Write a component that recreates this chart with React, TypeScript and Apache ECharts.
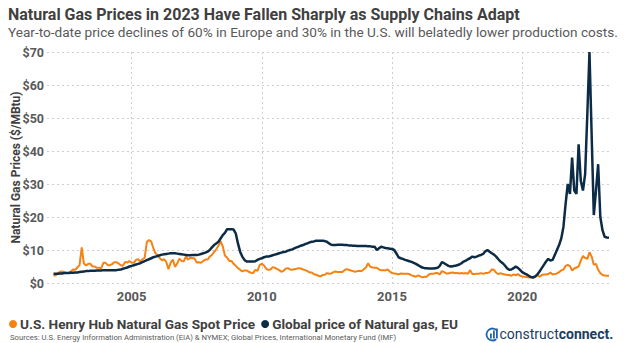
import React, { useEffect, useRef } from "react";
import * as echarts from "echarts";

// Monthly values, Jan 2002 .. May 2023 ($/MBtu)
const henryHub: number[] = [
  2.3, 2.3, 3.0, 3.4, 3.5, 3.3, 3.0, 3.1, 3.5, 4.1, 4.0, 4.7, // 2002
  5.4, 10.8, 5.9, 5.3, 5.8, 5.8, 5.0, 5.0, 4.6, 4.6, 4.5, 6.1, // 2003
  6.1, 5.4, 5.4, 5.7, 6.3, 6.3, 5.9, 5.4, 5.2, 6.4, 6.2, 6.6, // 2004
  6.2, 6.1, 7.0, 7.2, 6.5, 7.2, 7.6, 12.4, 13.0, 12.6, 10.6, 9.0, // 2005
  8.4, 7.5, 6.9, 7.2, 6.3, 4.2, 6.2, 7.1, 4.9, 5.9, 7.4, 6.7, // 2006
  6.6, 8.0, 7.1, 7.6, 7.6, 7.4, 6.2, 6.3, 6.1, 6.7, 7.1, 7.1, // 2007
  8.0, 8.5, 9.4, 10.2, 11.3, 12.7, 11.1, 8.3, 7.7, 6.7, 6.7, 5.8, // 2008
  5.2, 4.5, 4.0, 3.5, 3.8, 3.8, 3.4, 3.1, 3.0, 4.0, 3.7, 5.4, // 2009
  5.8, 5.3, 4.3, 4.0, 4.1, 4.8, 4.6, 4.3, 3.9, 3.4, 3.7, 4.3, // 2010
  4.5, 4.1, 4.0, 4.2, 4.3, 4.5, 4.4, 4.1, 3.9, 3.6, 3.2, 3.2, // 2011
  2.7, 2.5, 2.2, 2.0, 2.4, 2.5, 3.0, 2.8, 2.9, 3.3, 3.5, 3.3, // 2012
  3.3, 3.3, 3.8, 4.2, 4.0, 3.8, 3.6, 3.4, 3.6, 3.7, 3.6, 4.2, // 2013
  4.7, 6.0, 4.9, 4.7, 4.6, 4.6, 4.1, 3.9, 3.9, 3.8, 4.1, 3.5, // 2014
  3.0, 2.9, 2.8, 2.6, 2.9, 2.8, 2.8, 2.8, 2.7, 2.3, 2.1, 1.9, // 2015
  2.3, 2.0, 1.7, 1.9, 1.9, 2.6, 2.8, 2.8, 3.0, 3.0, 2.6, 3.6, // 2016
  3.3, 2.9, 2.9, 3.1, 3.2, 3.0, 3.0, 2.9, 3.0, 2.9, 3.0, 2.8, // 2017
  3.9, 2.7, 2.7, 2.8, 2.8, 3.0, 2.8, 3.0, 3.0, 3.3, 4.1, 4.0, // 2018
  3.1, 2.7, 3.0, 2.7, 2.6, 2.4, 2.4, 2.2, 2.6, 2.3, 2.7, 2.2, // 2019
  2.0, 1.9, 1.8, 1.7, 1.8, 1.6, 1.8, 2.3, 1.9, 2.4, 2.6, 2.6, // 2020
  2.7, 3.2, 2.6, 2.7, 2.9, 3.3, 3.8, 4.1, 5.2, 5.5, 5.1, 3.8, // 2021
  4.4, 4.7, 5.0, 6.8, 8.2, 7.6, 7.3, 9.3, 8.0, 5.5, 5.8, 4.0, // 2022
  3.0, 2.4, 2.3, 2.2, 2.2, // 2023
];

const euGas: number[] = [
  2.8, 2.8, 2.8, 2.9, 2.9, 3.0, 3.0, 3.0, 3.1, 3.1, 3.2, 3.2, // 2002
  3.3, 3.4, 3.5, 3.6, 3.6, 3.7, 3.7, 3.7, 3.8, 3.8, 3.8, 3.9, // 2003
  3.9, 3.9, 3.9, 3.9, 3.9, 3.9, 4.0, 4.1, 4.3, 4.5, 4.7, 5.0, // 2004
  5.2, 5.4, 5.6, 5.8, 6.0, 6.3, 6.6, 6.9, 7.2, 7.5, 7.8, 8.0, // 2005
  8.2, 8.4, 8.6, 8.7, 8.8, 8.9, 9.0, 9.0, 9.0, 8.9, 8.8, 8.7, // 2006
  8.6, 8.5, 8.4, 8.4, 8.5, 8.5, 8.5, 8.6, 8.8, 9.0, 9.2, 9.5, // 2007
  10.0, 10.8, 11.5, 12.0, 12.5, 13.5, 14.5, 15.2, 16.3, 16.3, 16.3, 16.2, // 2008
  15.0, 12.0, 9.5, 8.0, 7.0, 6.5, 6.5, 6.5, 6.5, 6.6, 7.0, 7.3, // 2009
  7.5, 7.8, 8.0, 8.0, 8.2, 8.4, 8.6, 8.8, 9.0, 9.2, 9.4, 9.5, // 2010
  9.8, 10.0, 10.2, 10.5, 10.8, 11.0, 11.3, 11.5, 11.8, 12.0, 12.3, 12.5, // 2011
  12.6, 12.8, 12.8, 12.8, 12.8, 12.7, 12.5, 12.0, 11.6, 11.5, 11.5, 11.6, // 2012
  11.6, 11.6, 11.5, 11.5, 11.4, 11.4, 11.3, 11.3, 11.2, 11.2, 11.2, 11.2, // 2013
  11.2, 11.1, 11.1, 11.0, 11.0, 10.0, 10.5, 11.0, 10.8, 10.6, 10.5, 10.4, // 2014
  10.3, 10.0, 9.0, 7.8, 7.5, 7.3, 7.0, 6.8, 6.6, 6.4, 6.1, 5.8, // 2015
  5.4, 5.0, 4.7, 4.5, 4.5, 4.4, 4.4, 4.4, 4.5, 4.6, 5.2, 6.3, // 2016
  6.0, 5.6, 5.2, 5.0, 5.1, 5.2, 5.4, 5.6, 6.0, 6.5, 6.8, 7.2, // 2017
  7.5, 8.0, 7.8, 8.0, 8.3, 8.5, 8.8, 9.6, 10.0, 9.5, 9.0, 8.6, // 2018
  8.0, 7.2, 6.5, 6.0, 5.3, 4.5, 4.0, 4.1, 4.5, 5.0, 4.6, 4.0, // 2019
  3.3, 2.9, 2.6, 2.2, 1.8, 1.7, 2.0, 2.6, 3.5, 4.5, 5.5, 6.5, // 2020
  7.3, 6.8, 7.0, 8.5, 10.0, 11.5, 13.5, 17.0, 24.0, 30.0, 27.0, 38.0, // 2021
  28.0, 27.0, 42.0, 31.0, 28.0, 33.0, 51.0, 70.0, 45.0, 20.6, 28.0, 36.0, // 2022
  20.0, 16.0, 14.0, 13.8, 13.7, // 2023
];

const seriesNames = [
  "U.S. Henry Hub Natural Gas Spot Price",
  "Global price of Natural gas, EU",
];
const yTickValues = [0, 10, 20, 30, 40, 50, 60, 70];
const labelYears = [2005, 2010, 2015, 2020];

const titleText = "Natural Gas Prices in 2023 Have Fallen Sharply as Supply Chains Adapt";
const subtitleText =
  "Year-to-date price declines of 60% in Europe and 30% in the U.S. will belatedly lower production costs.";
const sourceText =
  "Sources: U.S. Energy Information Administration (EIA) & NYMEX; Global Prices, International Monetary Fund (IMF)";

// month categories: Oct 2001 (padding) .. May 2023
const categories: string[] = [];
for (let y = 2001; y <= 2023; y++) {
  for (let m = 1; m <= 12; m++) {
    if (y === 2001 && m < 10) continue;
    if (y === 2023 && m > 5) continue;
    categories.push(`${y}-${m < 10 ? "0" + m : m}`);
  }
}
const pad = [null, null, null];

const FONT = "Roboto, 'Open Sans', sans-serif";
const ORANGE = "#f58212";
const NAVY = "#0c2b46";
const LOGO_BLUE = "#1f63b0";
const LOGO_NAVY = "#1c3d5e";

const isLabelCat = (_i: number, v: string) =>
  v.endsWith("-01") && labelYears.includes(parseInt(v.slice(0, 4), 10));

export default function App() {
  const ref = useRef<HTMLDivElement>(null);
  useEffect(() => {
    if (!ref.current) return;
    const chart = echarts.init(ref.current, null, { renderer: "svg" });
    chart.setOption({
      animation: false,
      backgroundColor: "#ffffff",
      textStyle: { fontFamily: FONT },
      title: {
        text: titleText,
        subtext: subtitleText,
        left: 3,
        top: 1,
        itemGap: 3,
        textStyle: { fontFamily: FONT, fontSize: 16, fontWeight: "bold", color: "#404040" },
        subtextStyle: { fontFamily: FONT, fontSize: 13.6, color: "#595959" },
      },
      legend: {
        data: seriesNames,
        left: 4,
        top: 312,
        icon: "circle",
        itemWidth: 8,
        itemHeight: 8,
        itemGap: 6,
        textStyle: { fontFamily: FONT, fontSize: 13.6, fontWeight: "bold", color: "#404040", padding: [0, 0, 0, -2] },
      },
      grid: { left: 47, right: 15, top: 52, bottom: 60, containLabel: false, outerBoundsMode: "none" },
      xAxis: {
        type: "category",
        data: categories,
        boundaryGap: false,
        axisLine: { show: false },
        axisTick: { show: false },
        axisLabel: {
          interval: isLabelCat,
          formatter: (v: string) => v.slice(0, 4),
          fontFamily: FONT,
          fontSize: 13,
          fontWeight: "bold",
          color: "#595959",
          margin: 7,
        },
        splitLine: {
          show: true,
          interval: isLabelCat,
          lineStyle: { color: "#cfcfcf", type: [2, 3], width: 1 },
        },
      },
      yAxis: {
        type: "value",
        min: yTickValues[0],
        max: yTickValues[yTickValues.length - 1],
        interval: 10,
        axisLine: { show: false },
        axisTick: { show: false },
        axisLabel: {
          formatter: (v: number) => "$" + v,
          fontFamily: FONT,
          fontSize: 12.5,
          fontWeight: "bold",
          color: "#595959",
          margin: 3,
        },
        splitLine: { lineStyle: { color: "#cfcfcf", type: [2, 3], width: 1 } },
        name: "Natural Gas Prices ($/MBtu)",
        nameLocation: "middle",
        nameGap: 25,
        nameMoveOverlap: false,
        nameTextStyle: { fontFamily: FONT, fontSize: 12, fontWeight: "bold", color: "#404040" },
      },
      series: [
        {
          name: seriesNames[0],
          type: "line",
          data: [...pad, ...henryHub],
          showSymbol: false,
          symbol: "circle",
          lineStyle: { color: ORANGE, width: 2 },
          itemStyle: { color: ORANGE },
        },
        {
          name: seriesNames[1],
          type: "line",
          data: [...pad, ...euGas],
          showSymbol: false,
          symbol: "circle",
          lineStyle: { color: NAVY, width: 2.5 },
          itemStyle: { color: NAVY },
        },
      ],
      graphic: [
        {
          type: "text",
          left: 10,
          top: 333,
          style: { text: sourceText, fontFamily: FONT, fontSize: 7.7, fill: "#595959" },
        },
        {
          type: "group",
          left: 484,
          top: 326,
          children: [
            { type: "arc", shape: { cx: 7, cy: 8, r: 6, startAngle: 0.9, endAngle: 5.6 }, style: { stroke: LOGO_BLUE, lineWidth: 1.8, fill: "none" } },
            { type: "rect", shape: { x: 4.5, y: 7, width: 1.8, height: 5 }, style: { fill: LOGO_BLUE } },
            { type: "rect", shape: { x: 7.5, y: 4, width: 1.8, height: 8 }, style: { fill: LOGO_BLUE } },
            { type: "rect", shape: { x: 10.5, y: 2, width: 1.8, height: 10 }, style: { fill: LOGO_BLUE } },
            {
              type: "text",
              x: 14,
              y: 0,
              style: {
                rich: {
                  a: { fontFamily: FONT, fontSize: 14, fill: LOGO_NAVY, fontWeight: "normal" },
                  b: { fontFamily: FONT, fontSize: 14, fill: LOGO_NAVY, fontWeight: "bold" },
                },
                text: "{a|construct}{b|connect.}",
              },
            },
          ],
        },
      ],
    });
    return () => chart.dispose();
  }, []);
  return <div ref={ref} style={{ width: 624, height: 343, position: "absolute", left: 0, top: 0 }} />;
}
